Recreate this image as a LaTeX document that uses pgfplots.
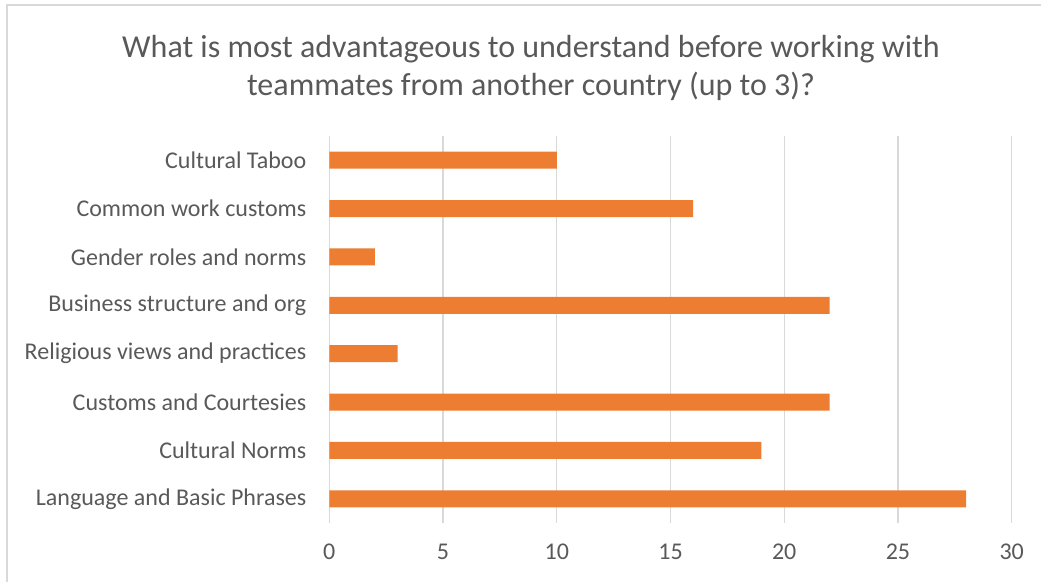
\documentclass[border=0pt]{standalone}
\usepackage{pgfplots}
\pgfplotsset{compat=1.18}
\usepackage{fontspec}
\setmainfont{Carlito}
\definecolor{barorange}{HTML}{ED7D31}
\definecolor{txtgray}{HTML}{595959}
\definecolor{gridgray}{HTML}{D9D9D9}
\begin{document}
\begin{tikzpicture}
\useasboundingbox (0,0) rectangle (520.5pt,291pt);
\draw[gridgray, line width=0.6pt] (3.5pt,-1pt) rectangle (522pt,288.5pt);
\node[txtgray, font=\fontsize{16}{19}\selectfont, align=center] at (265.5pt,257pt)
  {What is most advantageous to understand before working with\\teammates from another country (up to 3)?};
\begin{axis}[
    at={(164.65pt,29.5pt)}, anchor=south west,
    scale only axis,
    width=341.2pt, height=193.5pt,
    xbar,
    bar width=8.5pt,
    xmin=0, xmax=30,
    ymin=-0.5, ymax=7.5,
    xtick={0,5,...,30},
    ytick={0,...,7},
    yticklabels={Language and Basic Phrases, Cultural Norms, Customs and Courtesies,
      Religious views and practices, Business structure and org, Gender roles and norms,
      Common work customs, Cultural Taboo},
    xmajorgrids,
    major grid style={gridgray, line width=0.6pt},
    axis line style={draw=none},
    major tick length=0pt,
    tick label style={txtgray, font=\fontsize{12}{14}\selectfont},
    xticklabel style={yshift=-7pt},
    yticklabel style={xshift=-8pt},
    /pgf/number format/assume math mode=true,
]
\addplot[draw=none, fill=barorange] coordinates {
  (28,0) (19,1) (22,2) (3,3) (22,4) (2,5) (16,6) (10,7)
};
\end{axis}
\end{tikzpicture}
\end{document}
